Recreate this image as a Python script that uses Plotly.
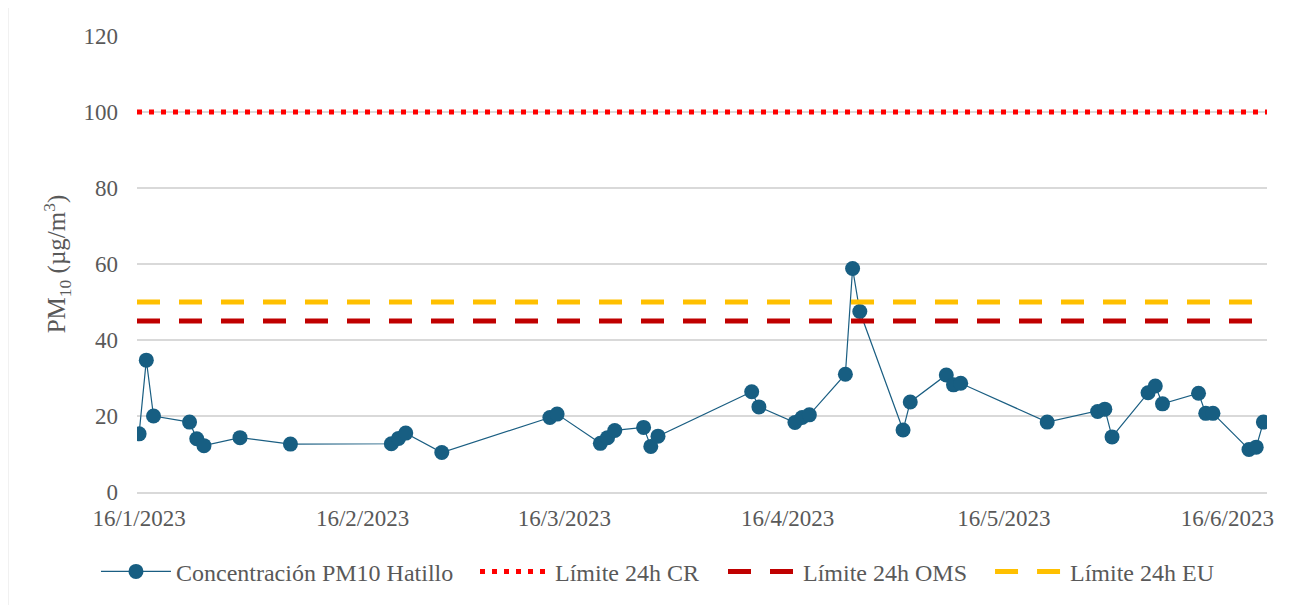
import plotly.graph_objects as go

# PM10 daily concentration, Hatillo
dates = [
    "2023-01-16", "2023-01-17", "2023-01-18", "2023-01-23", "2023-01-24", "2023-01-25",
    "2023-01-30", "2023-02-06", "2023-02-20", "2023-02-21", "2023-02-22", "2023-02-27",
    "2023-03-14", "2023-03-15", "2023-03-21", "2023-03-22", "2023-03-23", "2023-03-27",
    "2023-03-28", "2023-03-29", "2023-04-11", "2023-04-12", "2023-04-17", "2023-04-18",
    "2023-04-19", "2023-04-24", "2023-04-25", "2023-04-26", "2023-05-02", "2023-05-03",
    "2023-05-08", "2023-05-09", "2023-05-10", "2023-05-22", "2023-05-29", "2023-05-30",
    "2023-05-31", "2023-06-05", "2023-06-06", "2023-06-07", "2023-06-12", "2023-06-13",
    "2023-06-14", "2023-06-19", "2023-06-20", "2023-06-21",
]
pm10 = [
    15.3, 34.7, 20.0, 18.4, 14.0, 12.2,
    14.3, 12.6, 12.7, 14.1, 15.5, 10.4,
    19.6, 20.5, 12.8, 14.3, 16.2, 17.0,
    12.0, 14.7, 26.4, 22.4, 18.3, 19.6,
    20.3, 31.0, 58.8, 47.5, 16.3, 23.7,
    30.8, 28.2, 28.6, 18.4, 21.2, 21.8,
    14.5, 26.1, 27.9, 23.2, 26.0, 20.7,
    20.7, 11.2, 11.8, 18.4,
]

limit_cr = 100
limit_oms = 45
limit_eu = 50

tick_dates = ["2023-01-16", "2023-02-16", "2023-03-16", "2023-04-16", "2023-05-16", "2023-06-16"]
tick_labels = ["16/1/2023", "16/2/2023", "16/3/2023", "16/4/2023", "16/5/2023", "16/6/2023"]
y_ticks = [0, 20, 40, 60, 80, 100, 120]

x_range = ["2023-01-15 17:00", "2023-06-21 12:00"]

FONT = "Liberation Serif"
GREY = "#595959"
GRID = "#D9D9D9"

fig = go.Figure()

fig.add_trace(go.Scatter(
    x=dates, y=pm10, mode="lines+markers", name="Concentración PM10 Hatillo",
    line=dict(color="#1A5E82", width=1.2),
    marker=dict(color="#175E82", size=15),
    legend="legend",
))
fig.add_trace(go.Scatter(
    x=x_range, y=[limit_cr, limit_cr], mode="lines", name="Límite 24h CR",
    line=dict(color="#FF0000", width=5, dash="5px,7px"),
    legend="legend2",
))
fig.add_trace(go.Scatter(
    x=x_range, y=[limit_oms, limit_oms], mode="lines", name="Límite 24h OMS",
    line=dict(color="#C00000", width=5, dash="23px,19px"),
    legend="legend3",
))
fig.add_trace(go.Scatter(
    x=x_range, y=[limit_eu, limit_eu], mode="lines", name="Límite 24h EU",
    line=dict(color="#FFC000", width=5, dash="23px,19px"),
    legend="legend4",
))


def legend_at(x):
    return dict(
        orientation="h", x=x, xanchor="left", y=-0.175, yanchor="middle",
        font=dict(family=FONT, size=24, color=GREY),
        itemwidth=70, bgcolor="rgba(0,0,0,0)",
    )


# the page puts the plot 8px in from the top-left corner
fig.update_layout(
    width=1297, height=605,
    margin=dict(l=129, r=38, t=28, b=121),
    paper_bgcolor="white", plot_bgcolor="white",
    font=dict(family=FONT, color=GREY, size=23),
    showlegend=True,
    legend=legend_at(-0.0363),
    legend2=legend_at(0.2991),
    legend3=legend_at(0.5186),
    legend4=legend_at(0.7549),
    shapes=[dict(
        type="rect", xref="paper", yref="paper",
        x0=-0.1145, x1=1.0248, y0=-0.3, y1=1.0636,
        line=dict(color="#D9D9D9", width=1.5),
    )],
)

fig.update_xaxes(
    type="date", range=x_range,
    tickvals=tick_dates, ticktext=tick_labels,
    showgrid=False, showline=True, linecolor=GRID, linewidth=1.5,
    ticks="", ticklabelstandoff=5,
    tickfont=dict(family=FONT, size=23, color=GREY),
)
fig.update_yaxes(
    range=[0, 120], tickvals=y_ticks,
    showgrid=True, gridcolor=GRID, gridwidth=1.5,
    zeroline=False, showline=False, ticks="",
    ticklabelstandoff=18,
    tickfont=dict(family=FONT, size=23, color=GREY),
    title=dict(text="PM<sub>10</sub> (µg/m<sup>3</sup>)",
               font=dict(family=FONT, size=25, color=GREY), standoff=10),
)

fig.write_html("out.html")
